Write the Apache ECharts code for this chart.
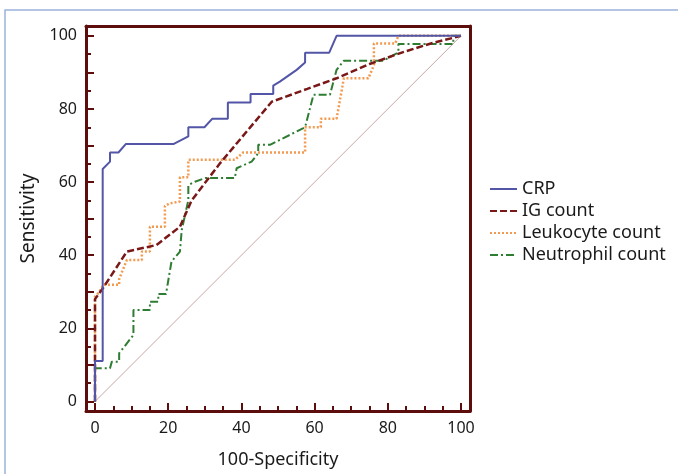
<!DOCTYPE html>
<html>
<head>
<meta charset="utf-8">
<script src="https://cdn.jsdelivr.net/npm/echarts@6/dist/echarts.min.js"></script>
<style>html,body{margin:0;padding:0;background:#fff}#c{width:678px;height:474px}</style>
</head>
<body>
<div id="c"></div>
<script>
// Data (x = 100-Specificity, y = Sensitivity)
const crp = [[0,0],[0,11.1],[2.1,11.1],[2.1,63.6],[4.1,65.6],[4.1,68.1],[6.4,68.1],[8.4,70.4],[21.4,70.4],[25.5,72.5],[25.5,75.0],[29.9,75.0],[32.0,77.3],[36.3,77.3],[36.3,81.8],[42.5,81.8],[42.5,84.1],[48.7,84.1],[48.7,86.4],[50.5,87.5],[55.1,90.7],[57.4,92.7],[57.4,95.4],[64.0,95.4],[66.0,100],[100,100]];
const igCount = [[0,0],[0,28],[2.3,31.2],[8.7,41.0],[16.8,42.8],[23.2,47.8],[26.4,55.0],[34.2,65.2],[48.3,82.0],[58,85.5],[66,88.4],[75,92.3],[84,95.5],[92,98],[100,100]];
const leukocyte = [[0,0],[0,28.7],[1.0,29.7],[2.3,31.9],[6.6,31.9],[6.6,33.5],[8.7,38.7],[12.8,38.7],[12.8,41.0],[15.0,41.0],[15.0,47.8],[19.1,47.8],[19.1,53.5],[20.5,54.2],[23.2,54.7],[23.2,61.3],[25.5,61.3],[25.5,66.1],[38.2,66.1],[40.5,68.1],[57.4,68.1],[57.4,75.0],[61.7,75.0],[61.7,77.3],[66.0,77.3],[68.0,88.4],[74.7,88.4],[76.2,92],[76.2,97.9],[82.0,97.9],[82.9,100],[100,100]];
const neutrophil = [[0,0],[0,9.1],[4.1,9.1],[4.6,10.9],[6.6,10.9],[6.6,13.2],[10.5,18.2],[10.5,25.0],[15.0,25.0],[15.0,27.3],[17.3,27.3],[17.3,29.4],[19.4,29.4],[20.9,38.3],[23.2,41.0],[23.7,46.9],[25.5,55.1],[25.5,59.2],[27.3,60.1],[30.1,61.1],[38.2,61.1],[38.7,63.8],[42.8,65.6],[44.6,67.9],[44.6,70.2],[47.8,70.2],[57.4,75.0],[59.7,83.9],[64.2,83.9],[66.0,90.7],[68.0,93.2],[78.8,93.2],[82.9,95.5],[82.9,97.8],[97.9,97.8],[97.9,100],[100,100]];
const diagonal = [[0,0],[100,100]];
const xLabels = [0,20,40,60,80,100];
const yLabels = [0,20,40,60,80,100];
const minorTicks = [0,5,10,15,20,25,30,35,40,45,50,55,60,65,70,75,80,85,90,95,100];
const xMajor = [0,20,40,60,80,100];
const yMajor = [0,10,20,30,40,50,60,70,80,90,100];

const frame = '#5e0d0d';
const font = 'Noto Sans';
const X_MIN = -2.46, X_MAX = 102.46, Y_MIN = -2.6, Y_MAX = 102.7;
const GRID = {left:86, top:26, right:208, bottom:63};
const W = 678, H = 474;
// data units per pixel (for tick lengths)
const xUnit = (X_MAX - X_MIN) / (W - GRID.left - GRID.right);
const yUnit = (Y_MAX - Y_MIN) / (H - GRID.top - GRID.bottom);

// Tick marks as markLine segments in data coordinates
const tickLines = [];
minorTicks.forEach(function (v) {
  const lx = (xMajor.indexOf(v) >= 0 ? 8 : 5) * yUnit;
  tickLines.push([{coord:[v, Y_MIN]}, {coord:[v, Y_MIN + lx]}]);
  const ly = (yMajor.indexOf(v) >= 0 ? 8 : 5) * xUnit;
  tickLines.push([{coord:[X_MIN, v]}, {coord:[X_MIN + ly, v]}]);
});

const chart = echarts.init(document.getElementById('c'), null, {renderer:'canvas'});
const frameLine = {show:true, onZero:false, lineStyle:{color:frame, width:3}};
const xBase = {type:'value', min:X_MIN, max:X_MAX, splitLine:{show:false}, axisTick:{show:false}};
const yBase = {type:'value', min:Y_MIN, max:Y_MAX, splitLine:{show:false}, axisTick:{show:false}};
chart.setOption({
  animation:false,
  backgroundColor:'#fff',
  graphic:[
    {type:'polyline', silent:true, shape:{points:[[5,474],[5,10],[678,10]]}, style:{stroke:'#9bb1dd', lineWidth:1.5, fill:null}}
  ],
  grid:{left:GRID.left, top:GRID.top, right:GRID.right, bottom:GRID.bottom, show:false},
  legend:{
    orient:'vertical', left:484, top:175, itemWidth:27, itemHeight:12, itemGap:4,
    itemStyle:{opacity:0},
    textStyle:{fontFamily:font, fontSize:18, color:'#1a1a1a'},
    data:['CRP','IG count','Leukocyte count','Neutrophil count']
  },
  xAxis:[
    Object.assign({}, xBase, {position:'bottom', axisLine:frameLine, name:'100-Specificity', nameLocation:'middle', nameGap:40,
      nameTextStyle:{fontFamily:font, fontSize:18, color:'#1a1a1a'},
      axisLabel:{show:true, customValues:xLabels, margin:9, fontFamily:font, fontSize:16, color:'#1a1a1a'}}),
    Object.assign({}, xBase, {position:'top', axisLine:frameLine, axisLabel:{show:false}})
  ],
  yAxis:[
    Object.assign({}, yBase, {position:'left', axisLine:frameLine, name:'Sensitivity', nameLocation:'middle', nameGap:48,
      nameTextStyle:{fontFamily:font, fontSize:19, color:'#1a1a1a'},
      axisLabel:{show:true, customValues:yLabels, margin:9, fontFamily:font, fontSize:16, color:'#1a1a1a'}}),
    Object.assign({}, yBase, {position:'right', axisLine:frameLine, axisLabel:{show:false}})
  ],
  series:[
    {name:'diag', type:'line', data:diagonal, symbol:'none', silent:true, clip:false, lineStyle:{color:'#c9a7a7', width:1}, z:1,
      markLine:{silent:true, symbol:['none','none'], animation:false, label:{show:false},
        lineStyle:{color:frame, width:2, type:'solid', opacity:1}, emphasis:{disabled:true}, data:tickLines}},
    {name:'Neutrophil count', type:'line', data:neutrophil, symbol:'none', lineStyle:{color:'#2f7d32', width:2, type:[8,3,2,3]}, itemStyle:{color:'#2f7d32'}, z:2},
    {name:'Leukocyte count', type:'line', data:leukocyte, symbol:'none', lineStyle:{color:'#f29a50', width:2.5, type:[2,2]}, itemStyle:{color:'#f29a50'}, z:3},
    {name:'IG count', type:'line', data:igCount, symbol:'none', lineStyle:{color:'#7a1818', width:2.5, type:[7,3]}, itemStyle:{color:'#7a1818'}, z:4},
    {name:'CRP', type:'line', data:crp, symbol:'none', lineStyle:{color:'#5356a6', width:2}, itemStyle:{color:'#5356a6'}, z:5}
  ]
});
</script>
</body>
</html>
